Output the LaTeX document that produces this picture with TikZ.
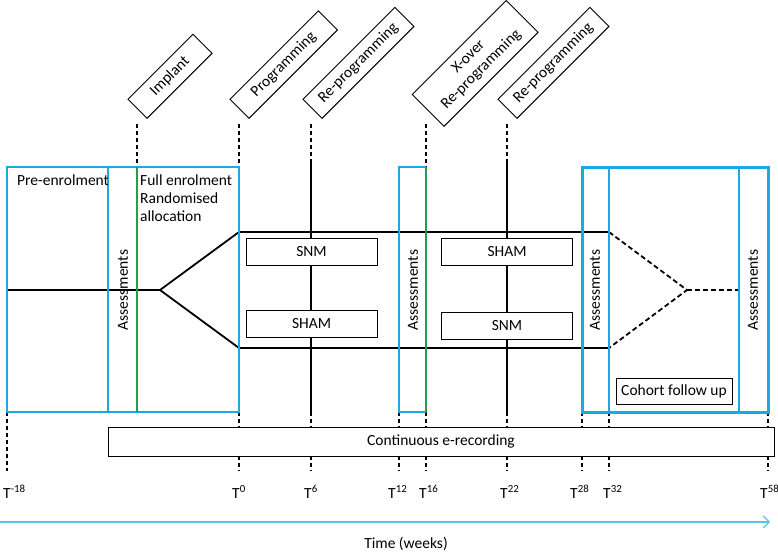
\documentclass[tikz,border=0pt]{standalone}
\usepackage{fontspec}
\setmainfont{Carlito}
\usetikzlibrary{arrows.meta}
\definecolor{boxblue}{RGB}{28,168,226}
\definecolor{axisblue}{RGB}{95,192,228}
\definecolor{implgreen}{RGB}{32,160,80}
\tikzset{
  tag/.style={draw, rotate=45, anchor=south west, inner sep=2pt, align=center, line width=0.9pt, minimum height=27pt},
  arm/.style={draw, fill=white, line width=0.9pt, minimum width=131pt, minimum height=27pt},
  tick/.style={line width=1.8pt, dash pattern=on 4pt off 3pt},
  flow/.style={line width=1.8pt},
  label/.style={inner sep=0pt, anchor=base west},
}

\begin{document}
\begin{tikzpicture}[x=1pt,y=-1pt,font=\fontsize{15.5}{18}\selectfont]
				\useasboundingbox (0,0) rectangle (778,551);
				
				\node[tag, minimum width=92pt] (implant) at (147,119) {Implant};
				\node[tag, minimum width=125pt] (prog) at (249,119) {Programming};
				\node[tag, minimum width=130pt] (reprogA) at (322,119) {Re-programming};
				\node[tag, minimum width=133pt, minimum height=45pt] (xover) at (444,127) {X-over\\Re-programming};
				\node[tag, minimum width=130pt] (reprogB) at (517,119) {Re-programming};
				
				\foreach \x in {137,239,426}
					\draw[tick] (\x,124) -- (\x,167);
				\foreach \x in {311,507}{
					\draw[tick] (\x,124) -- (\x,162);
					\draw[flow] (\x,162) -- (\x,412);
				}
				\draw[tick] (7,412) -- (7,471);
				\foreach \x in {239,311,399,426,507,582,609,768}{
					\draw[tick] (\x,412) -- (\x,427);
					\draw[tick] (\x,456) -- (\x,471);
				}
				
				\coordinate (start) at (7,290);
				\coordinate (split) at (160,290);
				\coordinate (upA) at (239,232);
				\coordinate (loA) at (239,348);
				\coordinate (upB) at (609,232);
				\coordinate (loB) at (609,348);
				\coordinate (merge) at (687,290);
				\coordinate (stop) at (739,290);
				\draw[flow] (start) -- (split) -- (upA) -- (upB);
				\draw[flow] (split) -- (loA) -- (loB);
				\draw[flow, dash pattern=on 5pt off 3pt] (upB) -- (merge) -- (loB);
				\draw[flow, dash pattern=on 5pt off 3pt] (merge) -- (stop);
				
				\node[arm] (snmA) at (311.5,251.5) {SNM};
				\node[arm] (shamA) at (311.5,324) {SHAM};
				\node[arm] (shamB) at (507,251.5) {SHAM};
				\node[arm] (snmB) at (507,326) {SNM};
				
				\draw[boxblue, line width=1.5pt] (108,167) -- (108,412);
				\draw[boxblue, line width=2.5pt] (7,167) rectangle (239,412);
				\draw[implgreen, line width=2.6pt] (137,167) -- (137,412);
				\draw[boxblue, line width=1.5pt] (426,167) -- (399,167) -- (399,412) -- (426,412);
				\draw[implgreen, line width=2.2pt] (426,167) -- (426,412);
				\draw[boxblue, line width=1.8pt] (609,167) -- (609,412);
				\draw[boxblue, line width=1.8pt] (739,167) -- (739,412);
				\draw[boxblue, line width=3pt] (582,167) rectangle (768,412);
				
				\node[inner sep=0pt, anchor=north west] (pre) at (17,175) {Pre-enrolment};
				\node[inner sep=0pt, anchor=north west, align=left] (full) at (140,175) {Full enrolment\\Randomised\\allocation};
				\node[rotate=90] (assA) at (123,290) {Assessments};
				\node[rotate=90] (assB) at (413,290) {Assessments};
				\node[rotate=90] (assC) at (595,290) {Assessments};
				\node[rotate=90] (assD) at (753,290) {Assessments};
				\node[draw, fill=white, line width=0.9pt, minimum width=116pt, minimum height=26pt] (cohort) at (674,391) {Cohort follow up};
				\node[draw, line width=0.9pt, minimum width=666pt, minimum height=29pt] (erec) at (441,441.5) {Continuous e-recording};
				
				\foreach \x/\t in {3/-18,232/0,304/6,388/12,419/16,500/22,570/28,603/32,760/58}
					\node[label] (T\t) at (\x,498) {T\textsuperscript{\t}};
				
				\coordinate (axisA) at (0,522);
				\coordinate (axisB) at (770,522);
				\draw[axisblue, line width=1.2pt, -{Straight Barb[length=6pt,width=12pt]}] (axisA) -- (axisB);
				\node[inner sep=0pt, anchor=base] (time) at (406,548) {Time (weeks)};
			\end{tikzpicture}
\end{document}
